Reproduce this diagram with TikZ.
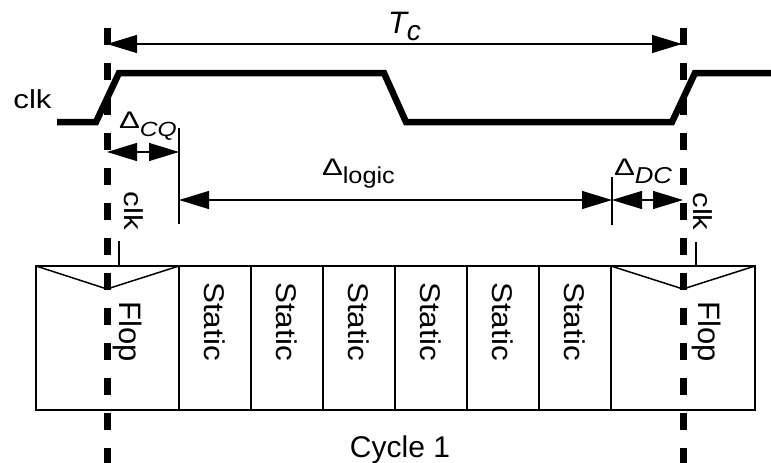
\documentclass[tikz,border=0pt]{standalone}
\usepackage{fontspec}
\usepackage{graphicx}
\setmainfont{Liberation Sans}
\usetikzlibrary{arrows.meta}

% horizontally widened text at a given size
\newcommand{\wtxt}[3]{\scalebox{#1}[1]{\fontsize{#2}{#2}\selectfont #3}}
\newcommand{\dlt}{\wtxt{1.3}{24}{Δ}}
\newcommand{\lowered}[1]{\raisebox{-8pt}{#1}}

\begin{document}
\begin{tikzpicture}[x=1pt,y=-1pt,
  every node/.style={inner sep=0pt, outer sep=0pt},
  wave/.style={line width=6.5pt, line join=miter},
  edgeline/.style={line width=7pt, dash pattern=on 17pt off 18pt},
  dim/.style={line width=1.2pt, {Triangle[length=30pt,width=18pt]}-{Triangle[length=30pt,width=18pt]}},
  tick/.style={line width=1.2pt},
  blk/.style={draw, line width=1.5pt, minimum height=144pt, anchor=north west},
  vlabel/.style={rotate=-90}
]
\useasboundingbox (0,0) rectangle (771,463);

% ---- flops and static logic blocks
\node[blk, minimum width=143pt] (flopA) at (36,266) {};
\foreach \i/\x in {1/179,2/251,3/323,4/395,5/467,6/539}{
  \node[blk, minimum width=72pt] (st\i) at (\x,266) {};
  \node[vlabel] (stl\i) at (\x+36,321.5) {\wtxt{1.1}{28.5}{Static}};
}
\node[blk, minimum width=144pt] (flopB) at (611,266) {};

% clock-input notches
\draw[line width=1.5pt] (flopA.north west) -- (107,289) -- (flopA.north east);
\draw[line width=1.5pt] (flopB.north west) -- (683,289) -- (flopB.north east);

\node[vlabel] (flA) at (128,332) {\fontsize{31}{31}\selectfont Flop};
\node[vlabel] (flB) at (707,332) {\fontsize{31}{31}\selectfont Flop};

% clock pins
\coordinate (pinA) at (119,241);
\coordinate (pinB) at (696,242);
\draw[tick] (pinA) -- (pinA |- flopA.north);
\draw[tick] (pinB) -- (pinB |- flopB.north);
\node[vlabel] (clkA) at (133.5,211) {\wtxt{1.2}{26}{clk}};
\node[vlabel] (clkB) at (702.5,211.5) {\wtxt{1.2}{26}{clk}};

% ---- clock waveform
\node[anchor=center] (clkname) at (32.5,99) {\wtxt{1.2}{26}{clk}};
\draw[wave] (57,122) -- (96,122) -- (119,73) -- (384,73) -- (406,122)
  -- (672,122) -- (695,73) -- (771,73);

% ---- timing dimensions
\coordinate (tcA) at (107,44);
\coordinate (tcB) at (682,44);
\draw[dim] (tcA) -- (tcB);
\node[anchor=base west] (tc) at (388,33)
  {\fontsize{31}{31}\selectfont\itshape T\raisebox{-7pt}{\fontsize{28}{28}\selectfont c}};

\coordinate (cqA) at (107,152);
\coordinate (cqB) at (179,152);
\coordinate (tkA) at (179,128);
\coordinate (tkA2) at (179,224);
\draw[tick] (tkA) -- (tkA2);
\draw[dim] (cqA) -- (cqB);
\node[anchor=base west] (dcq) at (119,128)
  {\dlt\lowered{\wtxt{1.2}{20.5}{\itshape CQ}}};

\coordinate (lgA) at (179,200);
\coordinate (lgB) at (612,200);
\draw[dim] (lgA) -- (lgB);
\node[anchor=base west] (dlogic) at (322,175)
  {\dlt\lowered{\wtxt{1.1}{23}{logic}}};

\coordinate (tkB) at (612,177);
\coordinate (tkB2) at (612,225);
\draw[tick] (tkB) -- (tkB2);
\coordinate (dcA) at (612,200);
\coordinate (dcB) at (683,200);
\draw[dim] (dcA) -- (dcB);
\node[anchor=base west] (ddc) at (614,175)
  {\dlt\lowered{\wtxt{1.12}{23}{\itshape DC}}};

% ---- cycle boundaries
\coordinate (bA) at (107,28);
\coordinate (bA2) at (107,463);
\coordinate (bB) at (683,28);
\coordinate (bB2) at (683,463);
\draw[edgeline] (bA) -- (bA2);
\draw[edgeline] (bB) -- (bB2);

\node[anchor=base] (cyc) at (400,457) {\fontsize{30}{30}\selectfont Cycle 1};
\end{tikzpicture}
\end{document}
